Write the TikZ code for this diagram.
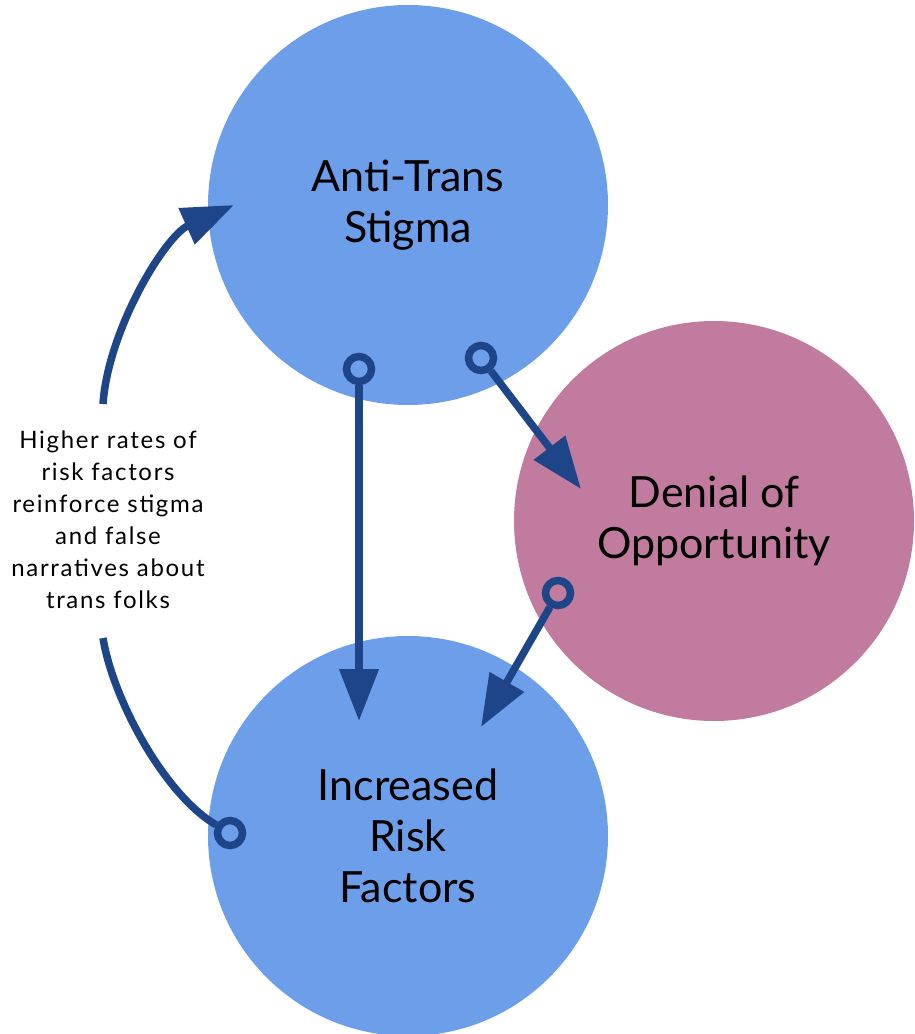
\documentclass[tikz,border=0pt]{standalone}
\usepackage{fontspec}
\setmainfont{Lato}
\usetikzlibrary{arrows.meta}
\definecolor{circblue}{RGB}{108,158,234}
\definecolor{circpink}{RGB}{193,123,159}
\definecolor{arrblue}{RGB}{29,69,135}
\begin{document}
\begin{tikzpicture}[x=1pt,y=-1pt,
  bigcirc/.style={circle, minimum size=400pt, inner sep=0pt, font=\fontsize{43}{51}\selectfont, align=center, text=black},
  ring/.style={circle, draw=arrblue, line width=7.5pt, minimum size=25pt, inner sep=0pt},
  conn/.style={draw=arrblue, line width=7.5pt, -{Triangle[length=52pt,width=38pt]}},
  plainconn/.style={draw=arrblue, line width=7.5pt},
  lbl/.style={font=\fontsize{24}{32}\selectfont\addfontfeature{LetterSpace=7}, align=center, text=black}]
\useasboundingbox (0,0) rectangle (914,1034);
\node[bigcirc, fill=circblue] (stigma) at (408,205) {Anti-Trans\\Stigma};
\node[bigcirc, fill=circpink] (denial) at (714,521) {Denial of\\Opportunity};
\node[bigcirc, fill=circblue] (risk) at (408,836) {Increased\\Risk\\Factors};
\node[ring] (r1) at (359,369) {};
\node[ring] (r2) at (481,358) {};
\node[ring] (r3) at (558,593) {};
\node[ring] (r4) at (230,833) {};
\coordinate (t1) at (359,721);
\coordinate (t2) at (581,489);
\coordinate (t3) at (481,727);
\coordinate (t4) at (234,205);
\coordinate (c1) at (103,638);
\coordinate (c2) at (103,404);
\draw[conn] (r1) -- (t1);
\draw[conn] (r2) -- (t2);
\draw[conn] (r3) -- (t3);
\draw[plainconn] (c1) .. controls (113,700) and (165,795) .. (r4);
\draw[conn] (c2) .. controls (108,330) and (165,236) .. (t4);
\node[lbl] (label) at (108,520) {Higher rates of\\risk factors\\reinforce stigma\\and false\\narratives about\\trans folks};
\end{tikzpicture}
\end{document}
